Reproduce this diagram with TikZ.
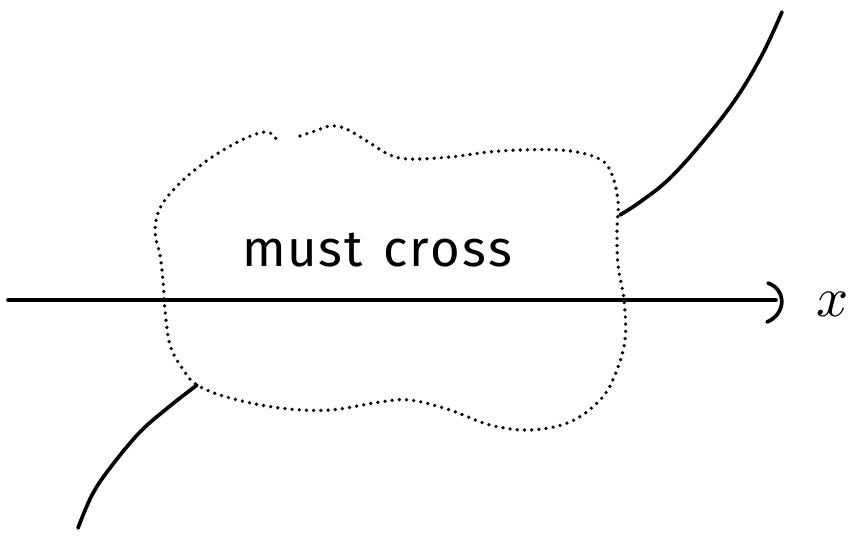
\documentclass[tikz,border=0pt]{standalone}
\usepackage{fontspec}
\setmainfont{Fira Sans}
\begin{document}
\begin{tikzpicture}[x=0.02cm,y=-0.02cm,
  ink/.style={line width=2.1pt,line cap=round,line join=round},
  dots/.style={line width=2.1pt,line cap=round,dash pattern=on 0pt off 4.1pt},
  handtext/.style={inner sep=0pt,font=\fontsize{29}{34}\selectfont}]
\useasboundingbox (0,0) rectangle (854,539);
% axis
\coordinate (a0) at (8,300);
\coordinate (a1) at (776,300);
\draw[ink] (a0) -- (a1);
\draw[ink] (768,283) .. controls (787,290) and (786,314) .. (767,322);
\node[inner sep=0pt,scale=3.2] (xl) at (833,304) {$x$};
% blob (dotted), with small gap at top
\draw[dots] plot[smooth,tension=0.6] coordinates {
 (300,136) (315,131) (330,126) (344,128) (357,135) (370,143) (390,155) (410,159)
 (450,157) (500,151) (560,150) (595,157) (610,170) (618,200) (617,230) (618,265)
 (624,300) (625,340) (615,375) (600,400) (570,422) (530,430) (490,425) (450,410)
 (410,400) (380,402) (330,410) (280,408) (230,398) (197,385) (182,368) (170,345)
 (165,310) (163,280) (160,255) (155,232) (160,208) (178,185) (205,162) (232,145)
 (253,135) (267,132) (274,136) (278,142)};
\coordinate (ur) at (620,215);
\coordinate (ll) at (197,385);
% curves
\draw[ink] plot[smooth,tension=0.6] coordinates {(ur) (640,202) (668,180) (700,145) (735,100) (762,55) (782,12)};
\draw[ink] plot[smooth,tension=0.6] coordinates {(ll) (170,406) (140,432) (110,468) (92,495) (78,528)};
\node[handtext] (txt) at (377,250) {m\hspace{1pt}u\hspace{1pt}s\hspace{1pt}t\hspace{4pt} c\hspace{1pt}r\hspace{1pt}o\hspace{1pt}s\hspace{1pt}s};
\end{tikzpicture}
\end{document}
